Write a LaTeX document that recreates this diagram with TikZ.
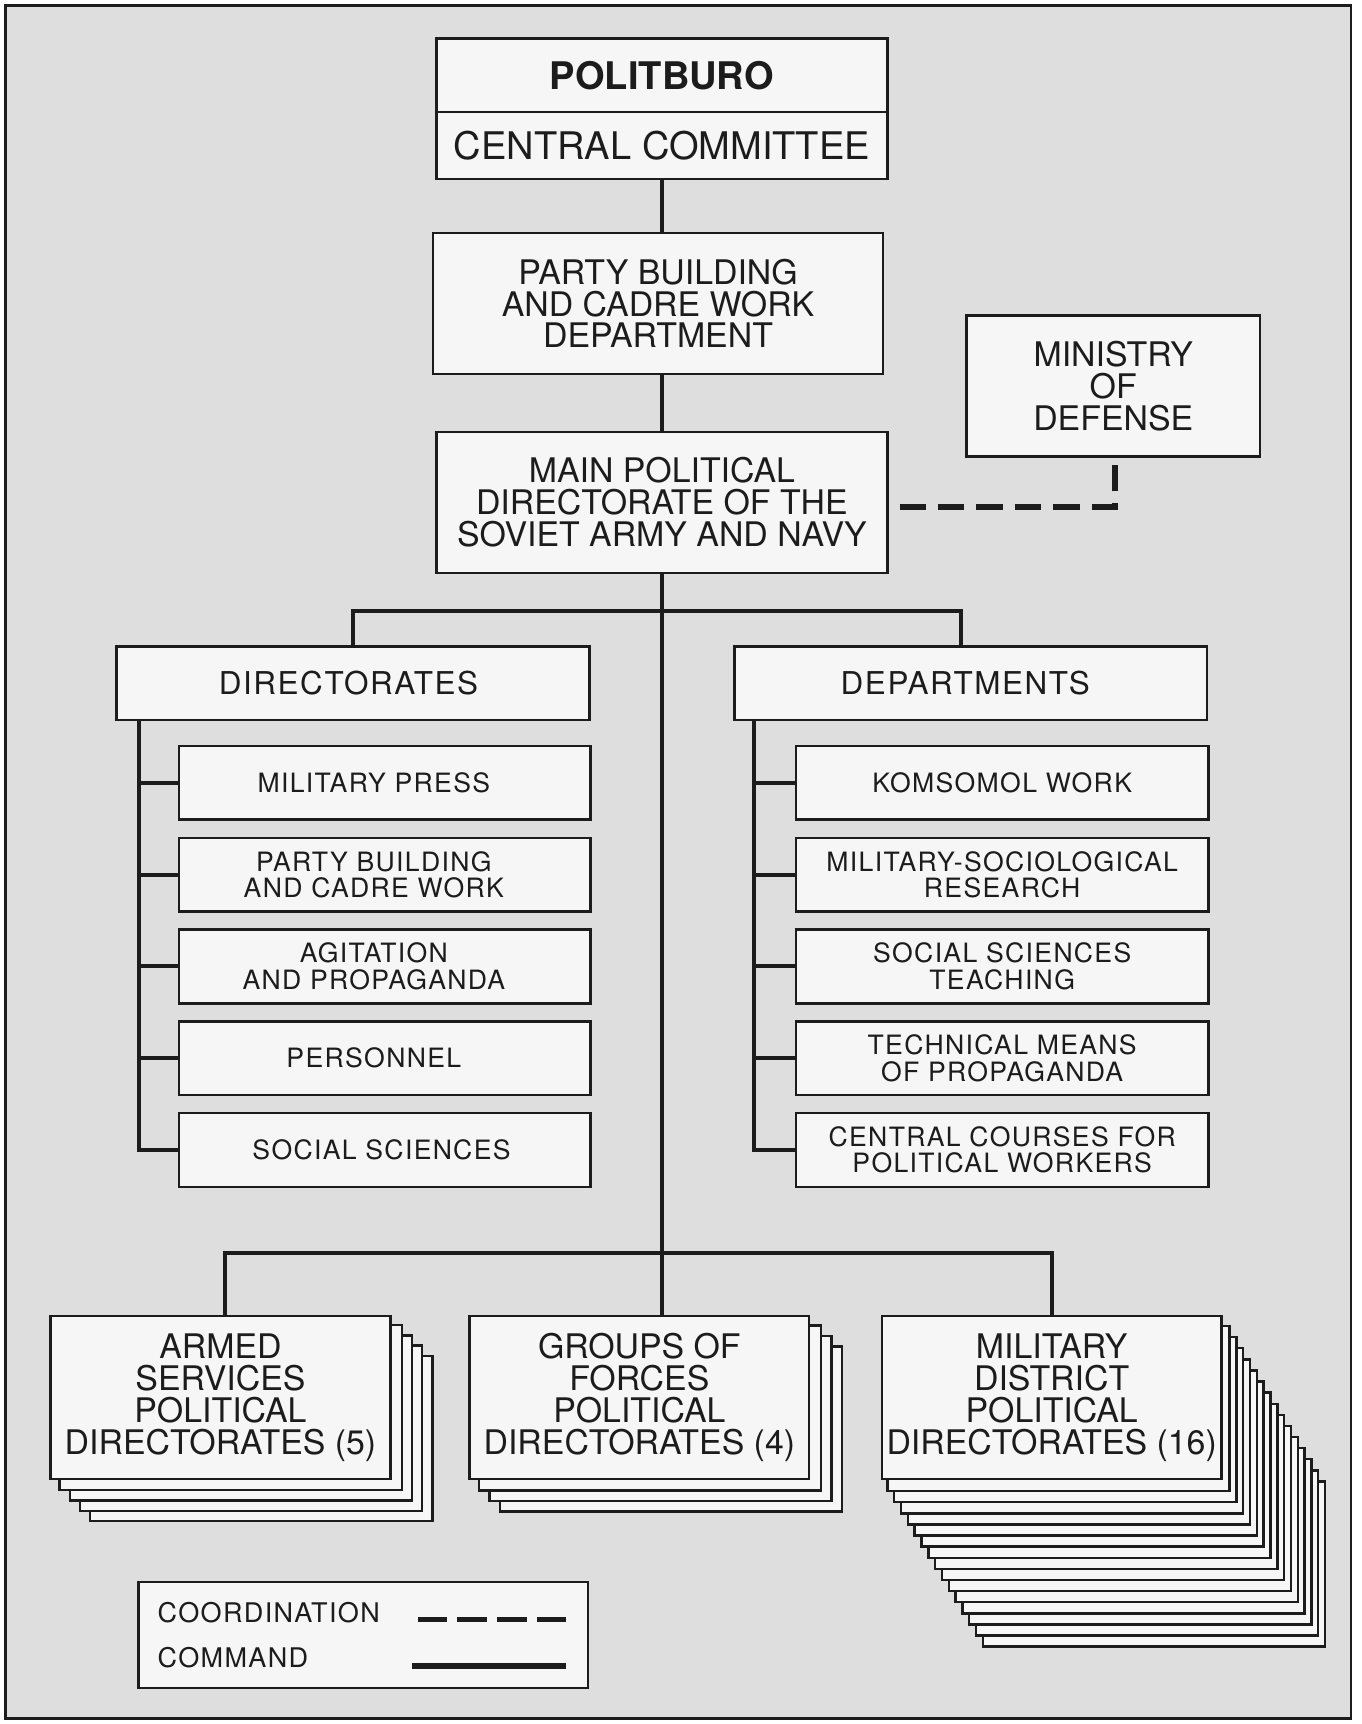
\documentclass[tikz,border=0pt]{standalone}
\usepackage{fontspec}
\setmainfont{TeX Gyre Heros}
\newfontfamily\spacedfont[LetterSpace=5]{TeX Gyre Heros}
\usetikzlibrary{calc}
\pgfdeclarelayer{back}
\pgfdeclarelayer{stack}
\pgfsetlayers{back,stack,main}
\definecolor{bgray}{HTML}{DEDEDE}
\definecolor{boxfill}{HTML}{F6F6F6}
\definecolor{ink}{HTML}{1C1C1C}
\newcommand{\lsh}{\hspace*{-10pt}}
\tikzset{
  box/.style={draw=ink, fill=boxfill, line width=1.1pt, inner sep=0pt, align=center, text=ink},
  stackbox/.style={draw=ink, fill=boxfill, line width=1.1pt},
  bigtxt/.style={font=\fontsize{15.4}{14.5}\selectfont},
  toptxt/.style={font=\fontsize{17.3}{18}\selectfont},
  midtxt/.style={font=\spacedfont\fontsize{14.3}{14}\selectfont},
  subtxt/.style={font=\spacedfont\fontsize{12.1}{12}\selectfont},
  cmd/.style={draw=ink, line width=1.8pt},
  coordline/.style={draw=ink, line width=2.6pt, dash pattern=on 12pt off 5.5pt},
  legtxt/.style={font=\spacedfont\fontsize{12.3}{12}\selectfont, text=ink, inner sep=0pt, anchor=west},
}
\begin{document}
\begin{tikzpicture}[x=0.5pt,y=-0.5pt]
\useasboundingbox (0,0) rectangle (1238,1568);
\begin{pgfonlayer}{back}
\fill[white] (0,0) rectangle (1238,1568);
\draw[fill=bgray, draw=ink, line width=1pt] (5,5) rectangle (1229,1563);
\end{pgfonlayer}

% top chain
\node[box, toptxt, font=\bfseries\fontsize{17.3}{18}\selectfont, minimum width=205pt, minimum height=33.5pt] (polit) at (602,68.5) {POLITBURO};
\node[box, toptxt, minimum width=205pt, minimum height=30.5pt] (cc) at (602,132.5) {CENTRAL COMMITTEE};
\node[box, bigtxt, minimum width=204.5pt, minimum height=64pt] (pbd) at (598.5,276) {PARTY BUILDING\\AND CADRE WORK\\DEPARTMENT};
\node[box, bigtxt, minimum width=205pt, minimum height=64pt] (mpd) at (602,457) {MAIN POLITICAL\\DIRECTORATE OF THE\\SOVIET ARMY AND NAVY};
\node[box, bigtxt, minimum width=133.5pt, minimum height=64pt] (mod) at (1012.5,351) {MINISTRY\\OF\\DEFENSE};

% second level
\node[box, midtxt, minimum width=215pt, minimum height=33.5pt] (dirs) at (321,621.5) {\hspace*{-4pt}DIRECTORATES};
\node[box, midtxt, minimum width=215pt, minimum height=33.5pt] (deps) at (883,621.5) {\hspace*{-5pt}DEPARTMENTS};

\node[box, subtxt, minimum width=187pt, minimum height=33.5pt] (l1) at (350,712) {\lsh MILITARY PRESS};
\node[box, subtxt, minimum width=187pt, minimum height=33.5pt] (l2) at (350,795.5) {\lsh PARTY BUILDING\\\lsh AND CADRE WORK};
\node[box, subtxt, minimum width=187pt, minimum height=33.5pt] (l3) at (350,879) {\lsh AGITATION\\\lsh AND PROPAGANDA};
\node[box, subtxt, minimum width=187pt, minimum height=33.5pt] (l4) at (350,962.5) {\lsh PERSONNEL};
\node[box, subtxt, minimum width=187pt, minimum height=33.5pt] (l5) at (350,1046) {\hspace*{-3pt}SOCIAL SCIENCES};

\node[box, subtxt, minimum width=187.5pt, minimum height=33.5pt] (r1) at (911.5,712) {KOMSOMOL WORK};
\node[box, subtxt, minimum width=187.5pt, minimum height=33.5pt] (r2) at (911.5,795.5) {MILITARY-SOCIOLOGICAL\\RESEARCH};
\node[box, subtxt, minimum width=187.5pt, minimum height=33.5pt] (r3) at (911.5,879) {SOCIAL SCIENCES\\TEACHING};
\node[box, subtxt, minimum width=187.5pt, minimum height=33.5pt] (r4) at (911.5,962.5) {TECHNICAL MEANS\\OF PROPAGANDA};
\node[box, subtxt, minimum width=187.5pt, minimum height=33.5pt] (r5) at (911.5,1046) {CENTRAL COURSES FOR\\POLITICAL WORKERS};

% bottom
\node[box, bigtxt, minimum width=154.5pt, minimum height=74pt] (armed) at (200.5,1271) {ARMED\\SERVICES\\POLITICAL\\DIRECTORATES (5)};
\node[box, bigtxt, minimum width=154.5pt, minimum height=74pt] (groups) at (581.5,1271) {GROUPS OF\\FORCES\\POLITICAL\\DIRECTORATES (4)};
\node[box, bigtxt, minimum width=154.5pt, minimum height=74pt] (md) at (956.5,1271) {MILITARY\\DISTRICT\\POLITICAL\\DIRECTORATES (16)};

\begin{pgfonlayer}{stack}
\foreach \k in {4,3,2,1}
  \draw[stackbox] ($(armed.north west)+(\k*9.3,\k*9.3)$) rectangle ($(armed.south east)+(\k*9.3,\k*9.3)$);
\foreach \k in {3,2,1}
  \draw[stackbox] ($(groups.north west)+(\k*9.6,\k*9.6)$) rectangle ($(groups.south east)+(\k*9.6,\k*9.6)$);
\foreach \k in {15,14,...,1}
  \draw[stackbox] ($(md.north west)+(\k*6.2,\k*10.1)$) rectangle ($(md.south east)+(\k*6.2,\k*10.1)$);
\end{pgfonlayer}

% connectors
\coordinate (bus1) at (602,556);
\coordinate (bus2) at (602,1140);
\coordinate (lb) at (126,655);
\coordinate (rb) at (686,655);
\draw[cmd] (cc.south) -- (cc.south |- pbd.north);
\draw[cmd] (cc.south |- pbd.south) -- (mpd.north);
\draw[cmd] (mpd.south) -- (bus2);
\draw[cmd] (dirs.north) |- (bus1) -| ([xshift=-4.5pt]deps.north);
\draw[cmd] ([xshift=2.25pt]armed.north) |- (bus2) -| ([xshift=0.25pt]md.north);
\draw[cmd] (bus2) -- (bus2 |- groups.north);
\draw[cmd] (lb) |- (l5.west);
\foreach \i in {1,2,3,4} \draw[cmd] (lb |- l\i.west) -- (l\i.west);
\draw[cmd] (rb) |- (r5.west);
\foreach \i in {1,2,3,4} \draw[cmd] (rb |- r\i.west) -- (r\i.west);
\draw[coordline] ([xshift=5pt,yshift=-2pt]mpd.east) -| ([xshift=0.75pt]mod.south);

% legend
\node[box, minimum width=204.5pt, minimum height=48pt] (leg) at (330.5,1487) {};
\node[legtxt] (lcoord) at (143,1467) {COORDINATION};
\node[legtxt] (lcmd) at (143,1508) {COMMAND};
\coordinate (c1a) at (380,1473);
\coordinate (c1b) at (515,1473);
\coordinate (c2a) at (375,1515);
\coordinate (c2b) at (515,1515);
\draw[coordline, dash pattern=on 13.5pt off 4.5pt] (c1a) -- (c1b);
\draw[cmd, line width=2.6pt] (c2a) -- (c2b);
\end{tikzpicture}
\end{document}
